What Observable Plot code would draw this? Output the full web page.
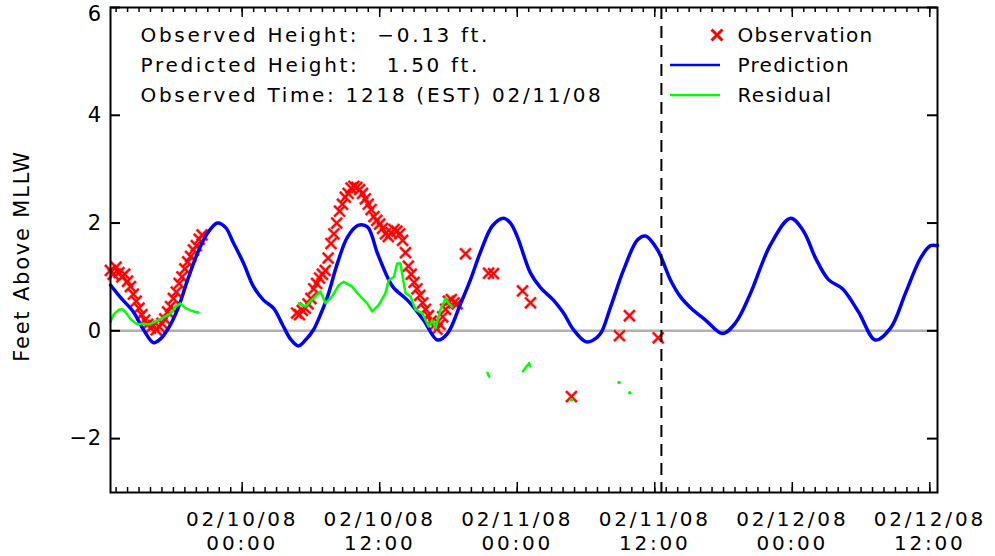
<!DOCTYPE html>
<html><head><meta charset="utf-8">
<script src="https://cdn.jsdelivr.net/npm/d3@7"></script>
<script src="https://cdn.jsdelivr.net/npm/@observablehq/plot@0.6"></script>
<style>
html,body{margin:0;padding:0;background:#fff;}
svg text{white-space:pre;}
.xlab text{letter-spacing:2.8px;}
.ylab text{letter-spacing:0.5px;}
.ytitle text{letter-spacing:1.8px;}
.annot text{letter-spacing:2.7px;}
.legend text{letter-spacing:1.3px;}
</style>
</head><body><div id="chart"></div>
<script>
// hours relative to 02/10/08 00:00 (EST)
const predHours = [-11.49,-10.62,-9.49,-8.61,-7.74,-7.13,-6.52,-5.65,-4.77,-3.9,-3.03,-2.16,-1.46,-0.76,0.11,0.99,1.86,2.73,3.6,4.21,4.91,5.61,6.22,6.83,7.44,8.32,9.19,10.15,10.93,11.8,12.67,13.2,14.42,15.82,17.04,17.91,19.05,19.92,20.79,21.84,22.8,23.41,24.02,25.16,26.03,27.16,28.04,28.91,29.96,30.57,31.27,32.14,33.28,34.5,35.2,36.25,37.38,38.25,39.12,40.43,41.91,43.05,44.36,46.1,47.85,48.98,50.03,51.16,52.38,53.78,55.26,56.57,57.88,59.19,60.06,60.67];
const predFeet = [0.85,0.62,0.35,0.02,-0.22,-0.15,0.02,0.39,0.94,1.44,1.81,2.0,1.92,1.63,1.26,0.82,0.57,0.42,0.08,-0.15,-0.28,-0.15,0.02,0.3,0.63,1.26,1.74,1.96,1.93,1.44,1.0,0.8,0.57,0.2,-0.17,-0.05,0.5,0.95,1.46,1.95,2.09,2.0,1.74,1.07,0.8,0.57,0.33,0.02,-0.2,-0.18,-0.05,0.44,1.13,1.69,1.76,1.5,0.94,0.63,0.43,0.2,-0.05,0.15,0.7,1.6,2.09,1.85,1.35,0.95,0.78,0.35,-0.17,0.05,0.7,1.35,1.58,1.58];

const obsHours = [
  -11.5,-11.25,-11.0,-10.75,-10.5,-10.25,-10.0,-9.75,-9.5,-9.25,-9.0,-8.75,-8.5,-8.25,-8.0,-7.75,-7.5,-7.25,-7.0,-6.75,-6.5,-6.25,-6.0,-5.75,-5.5,-5.25,-5.0,-4.75,-4.5,-4.25,-4.0,-3.75,-3.5,
  4.75,5.0,5.25,5.5,5.75,6.0,6.25,6.5,6.75,7.0,7.25,7.5,7.75,8.0,8.25,8.5,8.75,9.0,9.25,9.5,9.75,10.0,10.25,10.5,10.75,11.0,11.25,11.5,11.75,12.0,12.25,12.5,12.75,13.0,13.25,13.5,13.75,14.0,14.25,14.5,14.75,15.0,15.25,15.5,15.75,16.0,16.25,16.5,16.75,17.0,17.25,17.5,17.75,18.0,18.25,18.5,18.75,
  19.49,21.5,21.93,24.46,25.16,28.73,32.92,33.79,36.3];
const obsFeet = [
  1.12,1.05,1.18,1.08,1.0,1.05,0.92,0.82,0.68,0.55,0.42,0.3,0.2,0.12,0.05,0.1,0.02,0.08,0.14,0.22,0.35,0.45,0.6,0.72,0.88,1.0,1.15,1.28,1.38,1.5,1.58,1.7,1.78,
  0.33,0.3,0.38,0.42,0.5,0.6,0.78,0.88,0.98,1.05,1.12,1.35,1.62,1.8,2.0,2.22,2.35,2.48,2.55,2.65,2.68,2.66,2.62,2.55,2.45,2.35,2.25,2.12,2.05,1.98,1.9,1.8,1.75,1.82,1.88,1.85,1.8,1.68,1.45,1.2,1.05,0.9,0.78,0.66,0.52,0.4,0.28,0.18,0.1,0.03,0.12,0.26,0.4,0.55,0.58,0.52,0.5,
  1.43,1.07,1.06,0.74,0.52,-1.22,-0.09,0.28,-0.13];

const residHours = [-11.49,-11.23,-10.77,-10.45,-10.18,-9.75,-9.16,-8.7,-8.15,-7.74,-7.28,-6.87,-6.4,-6.08,-5.82,-5.38,-4.95,-4.51,-4.08,-3.81,
  4.94,5.52,5.96,6.4,6.83,7.27,7.85,8.43,8.87,9.6,10.17,10.91,11.34,11.92,12.5,12.79,13.23,13.53,13.81,14.1,14.25,14.69,15.12,15.71,16.28,16.58,16.87,17.3,17.74,18.03,18.32,
  21.4,21.55,24.49,25.04,25.13];
const residFeet = [0.17,0.3,0.39,0.4,0.35,0.22,0.12,0.13,0.12,0.15,0.2,0.25,0.3,0.36,0.45,0.51,0.42,0.38,0.35,0.34,
  0.51,0.45,0.55,0.64,0.73,0.51,0.64,0.85,0.91,0.82,0.67,0.51,0.36,0.48,0.7,0.94,1.0,1.25,1.25,0.88,0.7,0.64,0.39,0.33,0.08,0.2,0.05,0.39,0.6,0.51,0.45,
  -0.78,-0.85,-0.75,-0.6,-0.66];
const residSegment = [1,1,1,1,1,1,1,1,1,1,1,1,1,1,1,1,1,1,1,1,
  2,2,2,2,2,2,2,2,2,2,2,2,2,2,2,2,2,2,2,2,2,2,2,2,2,2,2,2,2,2,2,
  3,3,4,4,4];
const residDotHours = [28.73,32.88,33.82];
const residDotFeet = [-1.28,-0.96,-1.15];

const minorTickHours = d3.range(-11, 61);
const majorTickHours = [0,12,24,36,48,60];
const yTickValues = [-2,0,2,4,6];
const nowHour = 36.58;
const domainHours = [-11.49, 60.67];

const annotationLines = ["Observed Height:  \u22120.13 ft.", "Predicted Height:   1.50 ft.", "Observed Time: 1218 (EST) 02/11/08"];
const legendLabels = ["Observation", "Prediction", "Residual"];
const yTitle = "Feet Above MLLW";

const base = Date.UTC(2008, 1, 10);
const T = h => new Date(base + h * 3600e3);
const fmt = d3.utcFormat("%m/%d/%y\n%H:%M");

const pred = predHours.map((h, i) => ({t: T(h), v: predFeet[i]}));
const obs = obsHours.map((h, i) => ({t: T(h), v: obsFeet[i]}));
const resid = residHours.map((h, i) => ({t: T(h), v: residFeet[i], s: residSegment[i]}));
const residDots = residDotHours.map((h, i) => ({t: T(h), v: residDotFeet[i]}));

function legendMark(index, scales, values, dims) {
  const r = dims.width - dims.marginRight, t = dims.marginTop;
  const g = d3.create("svg:g");
  g.append("path").attr("d", "M-5.5,-5.5L5.5,5.5M5.5,-5.5L-5.5,5.5")
    .attr("transform", `translate(${r - 220},${t + 28})`)
    .attr("stroke", "#ff0000").attr("stroke-width", 3).attr("fill", "none");
  g.append("line").attr("x1", r - 267).attr("x2", r - 217).attr("y1", t + 58).attr("y2", t + 58)
    .attr("stroke", "#0000ff").attr("stroke-width", 2.5);
  g.append("line").attr("x1", r - 267).attr("x2", r - 217).attr("y1", t + 88).attr("y2", t + 88)
    .attr("stroke", "#00ff00").attr("stroke-width", 2.5);
  return g.node();
}

const chart = Plot.plot({
  width: 995, height: 556,
  marginLeft: 110, marginRight: 58, marginTop: 7, marginBottom: 64,
  style: {fontFamily: "'DejaVu Sans', sans-serif", background: "#fff", color: "#000", overflow: "visible"},
  x: {type: "utc", domain: domainHours.map(T), axis: null},
  y: {domain: [-3, 6], axis: null},
  marks: [
    Plot.ruleY([0], {stroke: "#b0b0b0", strokeWidth: 2.5}),
    Plot.dot(obs, {x: "t", y: "v", symbol: "times", r: 5, stroke: "#ffa0a0", strokeWidth: 3.5}),
    Plot.dot(obs, {x: "t", y: "v", symbol: "times", r: 5, stroke: "#ff0000", strokeWidth: 2}),
    Plot.line(pred, {x: "t", y: "v", stroke: "#0000ff", strokeWidth: 3.5, curve: "catmull-rom"}),
    Plot.line(resid, {x: "t", y: "v", z: "s", stroke: "#00ff00", strokeWidth: 2.5}),
    Plot.dot(residDots, {x: "t", y: "v", r: 1.8, fill: "#00ff00"}),
    Plot.ruleX([T(nowHour)], {stroke: "#000", strokeWidth: 2, strokeDasharray: "12,7"}),
    Plot.frame({stroke: "#000", strokeWidth: 2}),
    Plot.tickX(minorTickHours.map(T), {insetTop: 480, stroke: "#000", strokeWidth: 1.5}),
    Plot.tickX(minorTickHours.map(T), {insetBottom: 480, stroke: "#000", strokeWidth: 1.5}),
    Plot.tickX(majorTickHours.map(T), {insetTop: 475, stroke: "#000", strokeWidth: 1.5}),
    Plot.tickX(majorTickHours.map(T), {insetBottom: 475, stroke: "#000", strokeWidth: 1.5}),
    Plot.tickY(yTickValues, {insetRight: 817, stroke: "#000", strokeWidth: 2}),
    Plot.tickY(yTickValues, {insetLeft: 817, stroke: "#000", strokeWidth: 2}),
    Plot.text(majorTickHours.map(T), {x: d => d, text: d => fmt(d), frameAnchor: "bottom", lineAnchor: "top", dy: 17, fontSize: 20, lineHeight: 1.17, fill: "#000", className: "xlab"}),
    Plot.text(yTickValues.filter(v => v < 6), {y: d => d, text: d => d < 0 ? "\u2212" + Math.abs(d) : String(d), frameAnchor: "left", dx: -9, textAnchor: "end", fontSize: 21, fill: "#000", className: "ylab"}),
    Plot.text(yTickValues.filter(v => v >= 6), {y: d => d, text: d => String(d), frameAnchor: "left", dx: -9, dy: -1, textAnchor: "end", lineAnchor: "top", fontSize: 21, fill: "#000", className: "ylab"}),
    Plot.text([yTitle], {frameAnchor: "left", dx: -88, dy: 6, rotate: -90, textAnchor: "middle", fontSize: 21, fill: "#000", className: "ytitle"}),
    Plot.text([annotationLines.join("\n")], {frameAnchor: "top-left", dx: 30, dy: 13, lineAnchor: "top", textAnchor: "start", lineHeight: 1.5, fontSize: 20, fill: "#000", className: "annot"}),
    Plot.text([legendLabels.join("\n")], {frameAnchor: "top-right", dx: -200, dy: 13, lineAnchor: "top", textAnchor: "start", lineHeight: 1.5, fontSize: 20, fill: "#000", className: "legend"}),
    legendMark
  ]
});
document.getElementById("chart").appendChild(chart);
</script>
</body></html>
